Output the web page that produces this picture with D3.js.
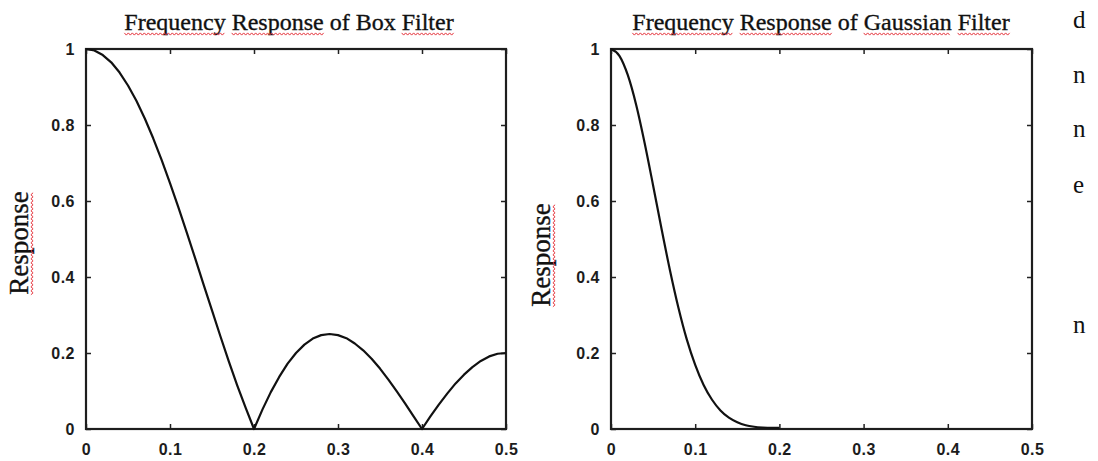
<!DOCTYPE html>
<html>
<head>
<meta charset="utf-8">
<style>
    body { margin: 0; background: #fff; }
    svg { display: block; }
    .tick text {
        font-family: "Liberation Sans", Arial, sans-serif;
        font-size: 16px;
        font-weight: bold;
        fill: #1c1c1c;
        letter-spacing: 0.5px;
    }
    .tick line { stroke: #222; stroke-width: 1.5; }
    .domain { display: none; }
    .title, .ylabel, .side {
        font-family: "Liberation Serif", "Times New Roman", serif;
        fill: #111;
    }
    .title, .ylabel { stroke: #111; stroke-width: 0.35; }
</style>
</head>
<body>
<svg width="1098" height="461"></svg>

<script src="https://d3js.org/d3.v7.min.js"></script>
<script>

// tick values and their labels (same on both panels)
const xTicks = [0, 0.1, 0.2, 0.3, 0.4, 0.5];
const xTickLabels = ["0", "0.1", "0.2", "0.3", "0.4", "0.5"];
const yTicks = [0, 0.2, 0.4, 0.6, 0.8, 1];
const yTickLabels = ["0", "0.2", "0.4", "0.6", "0.8", "1"];

// box filter response
const boxFreq = [0, 0.01, 0.02, 0.03, 0.04, 0.05, 0.06, 0.07, 0.08, 0.09,
    0.10, 0.11, 0.12, 0.13, 0.14, 0.15, 0.16, 0.17, 0.18, 0.19,
    0.20, 0.21, 0.22, 0.23, 0.24, 0.25, 0.26, 0.27, 0.28, 0.29,
    0.30, 0.31, 0.32, 0.33, 0.34, 0.35, 0.36, 0.37, 0.38, 0.39,
    0.40, 0.41, 0.42, 0.43, 0.44, 0.45, 0.46, 0.47, 0.48, 0.49, 0.50];
const boxResponse = [1, 0.996, 0.984, 0.965, 0.938, 0.904, 0.864, 0.817, 0.765, 0.708,
    0.647, 0.583, 0.517, 0.449, 0.380, 0.312, 0.244, 0.178, 0.115, 0.056,
    0, 0.051, 0.097, 0.137, 0.172, 0.200, 0.222, 0.238, 0.247, 0.250,
    0.247, 0.239, 0.225, 0.207, 0.185, 0.159, 0.130, 0.099, 0.067, 0.033,
    0, 0.033, 0.064, 0.093, 0.120, 0.143, 0.163, 0.179, 0.191, 0.198, 0.200];

// gaussian filter response
const gaussFreq = [0, 0.01, 0.02, 0.03, 0.04, 0.05, 0.06, 0.07, 0.08, 0.09, 0.10,
    0.11, 0.12, 0.13, 0.14, 0.15, 0.16, 0.17, 0.18, 0.19, 0.20];
const gaussResponse = [1, 0.982, 0.931, 0.852, 0.752, 0.641, 0.527, 0.418, 0.320, 0.236, 0.169,
    0.116, 0.077, 0.049, 0.030, 0.018, 0.010, 0.006, 0.004, 0.003, 0.003];

const titles = ["Frequency Response of Box Filter", "Frequency Response of Gaussian Filter"];
const flagged = [["Frequency", "Response", "Filter"], ["Frequency", "Response", "Gaussian", "Filter"]];

// stray letters from the page the figure was cut from
const sideLetters = ["d", "n", "n", "e", "n"];
const sideBaselines = [28, 83, 137, 193, 333];

let svg = d3.select("svg");

let panels = [
    { left: 86, right: 506, freq: boxFreq, resp: boxResponse, titleX: 289, labelX: 28, labelY: 243 },
    { left: 611, right: 1032, freq: gaussFreq, resp: gaussResponse, titleX: 821, labelX: 550, labelY: 255 }
];
let plotTop = 49, plotBottom = 429;

// red squiggle like a spell checker mark
function squiggle(g, x0, x1, y) {
    let pts = [];
    let up = true;
    for (let x = x0; x <= x1; x += 2) {
        pts.push([x, y + (up ? -1.1 : 1.1)]);
        up = !up;
    }
    g.append("path")
        .attr("d", d3.line()(pts))
        .attr("fill", "none")
        .attr("stroke", "#e5323b")
        .attr("stroke-width", 1);
}

function markWords(g, textEl, str, words, y) {
    let node = textEl.node();
    words.forEach(w => {
        let i = str.indexOf(w);
        let x0 = node.getStartPositionOfChar(i).x;
        let len = node.getSubStringLength(i, w.length);
        squiggle(g, x0, x0 + len, y);
    });
}

panels.forEach((p, k) => {
    let x = d3.scaleLinear().domain([0, 0.5]).range([p.left, p.right]);
    let y = d3.scaleLinear().domain([0, 1]).range([plotBottom, plotTop]);

    let g = svg.append("g");

    g.append("g")
        .attr("transform", `translate(0,${plotBottom})`)
        .call(d3.axisBottom(x).tickValues(xTicks).tickSize(-5).tickSizeOuter(0)
            .tickPadding(15).tickFormat((d, i) => xTickLabels[i]));

    g.append("g")
        .attr("transform", `translate(${p.left},0)`)
        .call(d3.axisLeft(y).tickValues(yTicks).tickSize(-5).tickSizeOuter(0)
            .tickPadding(11).tickFormat((d, i) => yTickLabels[i]));

    // ticks on top and right, no labels
    g.append("g")
        .attr("transform", `translate(0,${plotTop})`)
        .call(d3.axisTop(x).tickValues(xTicks).tickSize(-5).tickSizeOuter(0).tickFormat(""));
    g.append("g")
        .attr("transform", `translate(${p.right},0)`)
        .call(d3.axisRight(y).tickValues(yTicks).tickSize(-5).tickSizeOuter(0).tickFormat(""));

    g.append("rect")
        .attr("x", p.left)
        .attr("y", plotTop)
        .attr("width", p.right - p.left)
        .attr("height", plotBottom - plotTop)
        .attr("fill", "none")
        .attr("stroke", "#1e1e1e")
        .attr("stroke-width", 2.2);

    let line = d3.line()
        .x(d => x(d[0]))
        .y(d => y(d[1]))
        .curve(k == 0 ? d3.curveLinear : d3.curveMonotoneX);

    g.append("path")
        .datum(p.freq.map((f, i) => [f, p.resp[i]]))
        .attr("d", line)
        .attr("fill", "none")
        .attr("stroke", "#111")
        .attr("stroke-width", 2.2)
        .attr("stroke-linejoin", "round");

    let title = g.append("text")
        .attr("class", "title")
        .attr("x", p.titleX)
        .attr("y", 30)
        .attr("text-anchor", "middle")
        .style("font-size", "24px")
        .text(titles[k]);
    markWords(g, title, titles[k], flagged[k], 34);

    let lg = g.append("g")
        .attr("transform", `translate(${p.labelX},${p.labelY}) rotate(-90)`);
    let ylab = lg.append("text")
        .attr("class", "ylabel")
        .attr("x", 0)
        .attr("y", 0)
        .attr("text-anchor", "middle")
        .style("font-size", "27px")
        .text("Response");
    markWords(lg, ylab, "Response", ["Response"], 4);
});

svg.selectAll(".side")
    .data(sideLetters)
    .join("text")
    .attr("class", "side")
    .attr("x", 1073)
    .attr("y", (d, i) => sideBaselines[i])
    .style("font-size", "25px")
    .text(d => d);

</script>
</body>
</html>
